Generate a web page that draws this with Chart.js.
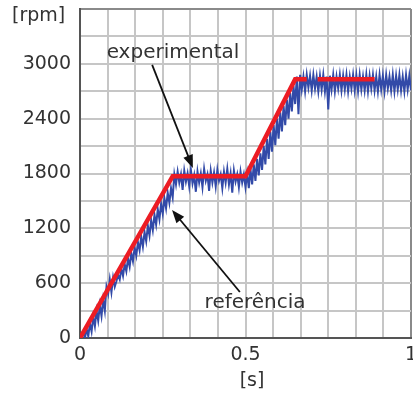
<!DOCTYPE html>
<html lang="en">
<head>
    <meta charset="UTF-8">
    <title>Speed response</title>
    <script src="https://cdn.jsdelivr.net/npm/chart.js"></script>
    <style>
        body { margin: 0; padding: 0; background: #fff; }
        #wrap { width: 413px; height: 394px; }
    </style>
</head>
<body>
<div id="wrap"><canvas id="speedChart" width="413" height="394"></canvas></div>
<script>
    // reference speed profile (red), null = where the blue trace covers it
    const refTime  = [0, 0.28, 0.50, 0.65, 0.685, null, 0.718, 0.89];
    const refSpeed = [0, 1770, 1770, 2830, 2830,  null, 2830,  2830];

    // measured speed (blue), one sample every 5 ms from t = 0
    const expStep = 0.005;
    const expSpeed = [
        0, 0, 60, 0, 100, 20, 160, 70, 230, 130,
        300, 190, 360, 240, 420, 300, 560, 480, 640, 500,
        660, 560, 620, 690, 640, 760, 680, 810, 730, 870,
        780, 930, 840, 990, 900, 1050, 960, 1110, 1000, 1160,
        1060, 1230, 1120, 1290, 1180, 1350, 1240, 1410, 1300, 1470,
        1360, 1530, 1420, 1590, 1480, 1640, 1540, 1790, 1680, 1820,
        1700, 1790, 1620, 1830, 1710, 1800, 1660, 1840, 1690, 1780,
        1600, 1820, 1700, 1800, 1650, 1850, 1720, 1790, 1610, 1830,
        1700, 1810, 1660, 1840, 1720, 1790, 1640, 1820, 1700, 1850,
        1680, 1800, 1590, 1830, 1710, 1790, 1650, 1820, 1700, 1790,
        1650, 1800, 1640, 1850, 1680, 1900, 1720, 1960, 1780, 2020,
        1840, 2100, 1900, 2180, 1960, 2260, 2040, 2330, 2110, 2400,
        2180, 2470, 2260, 2540, 2330, 2610, 2400, 2680, 2480, 2760,
        2560, 2860, 2450, 2880, 2720, 2860, 2700, 2880, 2740, 2870,
        2710, 2880, 2730, 2860, 2700, 2870, 2720, 2880, 2700, 2860,
        2500, 2870, 2720, 2880, 2700, 2860, 2730, 2880, 2710, 2870,
        2720, 2880, 2700, 2860, 2730, 2880, 2710, 2870, 2700, 2880,
        2720, 2860, 2710, 2880, 2700, 2870, 2730, 2880, 2710, 2860,
        2700, 2880, 2720, 2870, 2700, 2880, 2730, 2860, 2710, 2880,
        2700, 2870, 2720, 2880, 2710, 2860, 2700, 2880, 2720, 2870,
        2710
    ];

    // axis ticks
    const xTickLabels = { 0: '0', 6: '0.5', 12: '1' };
    const yLabelEvery = 600;

    // text notes and their arrows, in data units
    const notes = [
        { text: 'experimental', x: 0.281, y: 3064, from: [0.218, 2988], to: [0.341, 1860] },
        { text: 'referência',   x: 0.529, y: 328,  from: [0.483, 503],  to: [0.278, 1401] }
    ];

    const refPoints = refTime.map((t, i) => t === null ? { x: null, y: null } : { x: t, y: refSpeed[i] });
    const expPoints = expSpeed.map((v, i) => ({ x: i * expStep, y: v }));

    const FONT = 'DejaVu Sans';

    function drawArrow(ctx, x1, y1, x2, y2) {
        const ang = Math.atan2(y2 - y1, x2 - x1);
        const head = 13, half = 5;
        ctx.strokeStyle = '#111';
        ctx.fillStyle = '#111';
        ctx.lineWidth = 1.8;
        ctx.beginPath();
        ctx.moveTo(x1, y1);
        ctx.lineTo(x2 - Math.cos(ang) * head * 0.8, y2 - Math.sin(ang) * head * 0.8);
        ctx.stroke();
        ctx.beginPath();
        ctx.moveTo(x2, y2);
        ctx.lineTo(x2 - Math.cos(ang) * head + Math.sin(ang) * half, y2 - Math.sin(ang) * head - Math.cos(ang) * half);
        ctx.lineTo(x2 - Math.cos(ang) * head - Math.sin(ang) * half, y2 - Math.sin(ang) * head + Math.cos(ang) * half);
        ctx.closePath();
        ctx.fill();
    }

    const notesPlugin = {
        id: 'notes',
        afterDatasetsDraw(chart) {
            const ctx = chart.ctx;
            const xs = chart.scales.x, ys = chart.scales.y;
            ctx.save();
            notes.forEach(n => {
                ctx.font = '20px "' + FONT + '"';
                ctx.fillStyle = '#333';
                ctx.textAlign = 'center';
                ctx.textBaseline = 'alphabetic';
                ctx.fillText(n.text, xs.getPixelForValue(n.x), ys.getPixelForValue(n.y));
                drawArrow(ctx,
                    xs.getPixelForValue(n.from[0]), ys.getPixelForValue(n.from[1]),
                    xs.getPixelForValue(n.to[0]), ys.getPixelForValue(n.to[1]));
            });
            // unit labels
            ctx.font = '19px "' + FONT + '"';
            ctx.fillStyle = '#333';
            ctx.textAlign = 'left';
            ctx.textBaseline = 'middle';
            ctx.fillText('[rpm]', 12, 16);
            ctx.textAlign = 'center';
            ctx.fillText('[s]', 252, 381);
            ctx.restore();
        }
    };

    const ctx = document.getElementById('speedChart').getContext('2d');
    new Chart(ctx, {
        type: 'line',
        data: {
            datasets: [
                {
                    label: 'referência',
                    data: refPoints,
                    borderColor: 'rgb(236, 28, 36)',
                    borderWidth: 4.5,
                    pointRadius: 0,
                    spanGaps: false,
                    order: 0
                },
                {
                    label: 'experimental',
                    data: expPoints,
                    borderColor: 'rgb(50, 74, 168)',
                    borderWidth: 2,
                    pointRadius: 0,
                    order: 1
                }
            ]
        },
        options: {
            responsive: false,
            animation: false,
            parsing: false,
            layout: { padding: { top: 9, right: 2, left: 0, bottom: 0 } },
            plugins: {
                legend: { display: false },
                tooltip: { enabled: false }
            },
            scales: {
                x: {
                    type: 'linear',
                    min: 0,
                    max: 1,
                    afterBuildTicks: s => { s.ticks = Array.from({ length: 13 }, (_, i) => ({ value: i / 12 })); },
                    afterFit: s => { s.height = 56; s.paddingLeft = 0; s.paddingRight = 0; },
                    ticks: {
                        autoSkip: false,
                        maxRotation: 0,
                        padding: 6,
                        color: '#333',
                        font: { family: FONT, size: 19 },
                        callback: (v, i) => xTickLabels[i] !== undefined ? xTickLabels[i] : ''
                    },
                    grid: {
                        drawTicks: false,
                        color: c => c.index === 12 ? '#8a8a8a' : '#c6c6c6',
                        lineWidth: 2
                    },
                    border: { display: true, color: '#555', width: 2 }
                },
                y: {
                    min: 0,
                    max: 3600,
                    afterFit: s => { s.width = 80; s.paddingTop = 0; s.paddingBottom = 0; },
                    ticks: {
                        stepSize: 300,
                        autoSkip: false,
                        padding: 9,
                        color: '#333',
                        font: { family: FONT, size: 19 },
                        callback: v => (v % yLabelEvery === 0 && v < 3600) ? String(v) : ''
                    },
                    grid: {
                        drawTicks: false,
                        color: c => c.tick && c.tick.value === 3600 ? '#8a8a8a' : '#c6c6c6',
                        lineWidth: 2
                    },
                    border: { display: true, color: '#555', width: 2 }
                }
            }
        },
        plugins: [notesPlugin]
    });
</script>
</body>
</html>
